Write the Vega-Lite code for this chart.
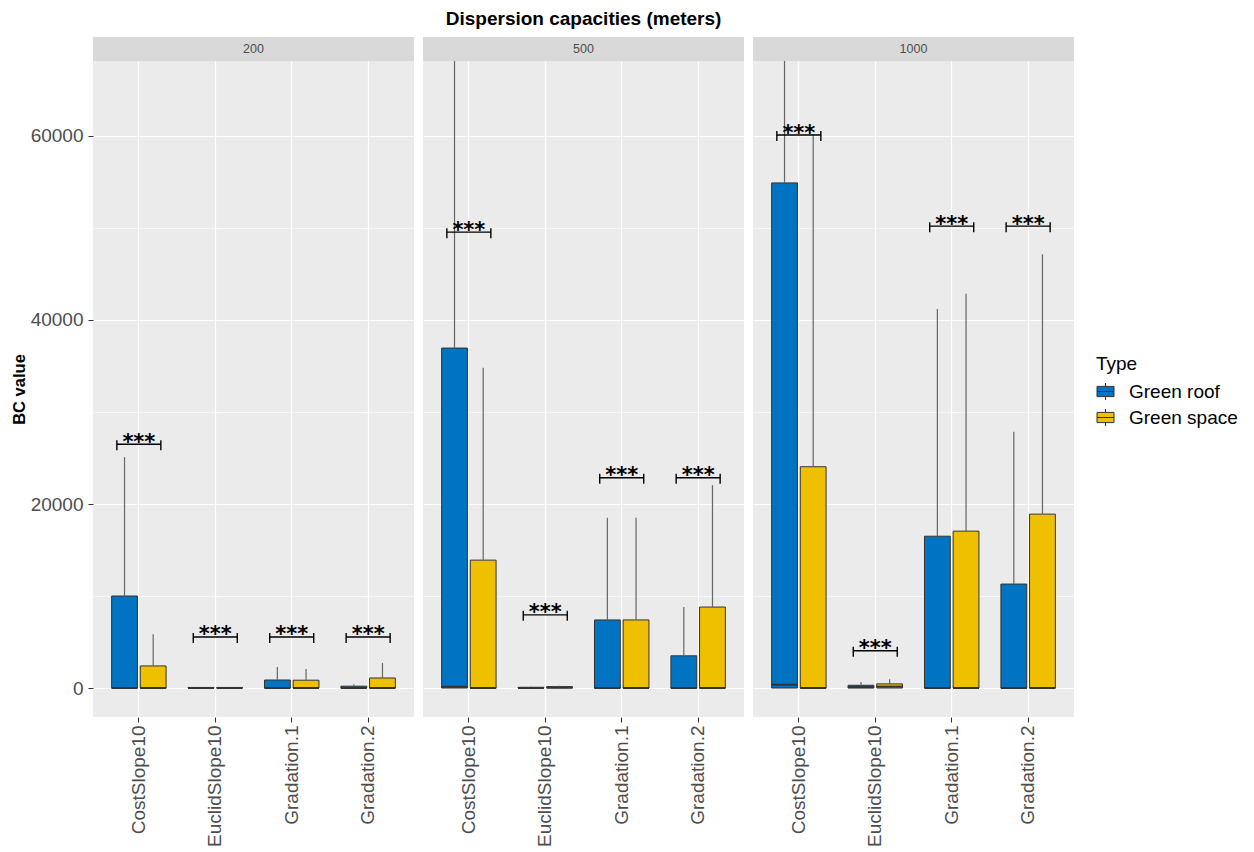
{
  "$schema": "https://vega.github.io/schema/vega-lite/v6.json",
  "padding": {"left": 11, "top": 10, "right": 5, "bottom": 0},
  "background": "white",
  "title": {"text": "Dispersion capacities (meters)", "fontSize": 19, "font": "Liberation Sans", "fontWeight": "bold", "color": "black", "anchor": "middle", "offset": 8, "dx": -41},
  "datasets": {
    "strips": [{"Dist": 200}, {"Dist": 500}, {"Dist": 1000}],
    "main": [
      {"Dist": 200, "Method": "CostSlope10", "Type": "Green roof", "q1": 0, "med": 0, "q3": 10000, "hi": 25100},
      {"Dist": 200, "Method": "CostSlope10", "Type": "Green space", "q1": 0, "med": 0, "q3": 2400, "hi": 5850},
      {"Dist": 200, "Method": "EuclidSlope10", "Type": "Green roof", "q1": 0, "med": 0, "q3": 60, "hi": 100},
      {"Dist": 200, "Method": "EuclidSlope10", "Type": "Green space", "q1": 0, "med": 0, "q3": 60, "hi": 100},
      {"Dist": 200, "Method": "Gradation.1", "Type": "Green roof", "q1": 0, "med": 0, "q3": 870, "hi": 2280},
      {"Dist": 200, "Method": "Gradation.1", "Type": "Green space", "q1": 0, "med": 0, "q3": 850, "hi": 2070},
      {"Dist": 200, "Method": "Gradation.2", "Type": "Green roof", "q1": 0, "med": 0, "q3": 200, "hi": 420},
      {"Dist": 200, "Method": "Gradation.2", "Type": "Green space", "q1": 0, "med": 0, "q3": 1090, "hi": 2720},
      {"Dist": 500, "Method": "CostSlope10", "Type": "Green roof", "q1": 0, "med": 150, "q3": 36950, "hi": 75000},
      {"Dist": 500, "Method": "CostSlope10", "Type": "Green space", "q1": 0, "med": 0, "q3": 13900, "hi": 34800},
      {"Dist": 500, "Method": "EuclidSlope10", "Type": "Green roof", "q1": 0, "med": 0, "q3": 80, "hi": 150},
      {"Dist": 500, "Method": "EuclidSlope10", "Type": "Green space", "q1": 0, "med": 50, "q3": 150, "hi": 250},
      {"Dist": 500, "Method": "Gradation.1", "Type": "Green roof", "q1": 0, "med": 0, "q3": 7400, "hi": 18500},
      {"Dist": 500, "Method": "Gradation.1", "Type": "Green space", "q1": 0, "med": 0, "q3": 7400, "hi": 18500},
      {"Dist": 500, "Method": "Gradation.2", "Type": "Green roof", "q1": 0, "med": 0, "q3": 3500, "hi": 8800},
      {"Dist": 500, "Method": "Gradation.2", "Type": "Green space", "q1": 0, "med": 0, "q3": 8800, "hi": 22050},
      {"Dist": 1000, "Method": "CostSlope10", "Type": "Green roof", "q1": 0, "med": 350, "q3": 54900, "hi": 75000},
      {"Dist": 1000, "Method": "CostSlope10", "Type": "Green space", "q1": 0, "med": 0, "q3": 24050, "hi": 60200},
      {"Dist": 1000, "Method": "EuclidSlope10", "Type": "Green roof", "q1": 0, "med": 100, "q3": 300, "hi": 650},
      {"Dist": 1000, "Method": "EuclidSlope10", "Type": "Green space", "q1": 0, "med": 150, "q3": 450, "hi": 950},
      {"Dist": 1000, "Method": "Gradation.1", "Type": "Green roof", "q1": 0, "med": 0, "q3": 16500, "hi": 41200},
      {"Dist": 1000, "Method": "Gradation.1", "Type": "Green space", "q1": 0, "med": 0, "q3": 17050, "hi": 42850},
      {"Dist": 1000, "Method": "Gradation.2", "Type": "Green roof", "q1": 0, "med": 0, "q3": 11300, "hi": 27850},
      {"Dist": 1000, "Method": "Gradation.2", "Type": "Green space", "q1": 0, "med": 0, "q3": 18900, "hi": 47150},
      {"Dist": 200, "Method": "CostSlope10", "yb": 26500, "sig": "***"},
      {"Dist": 200, "Method": "EuclidSlope10", "yb": 5550, "sig": "***"},
      {"Dist": 200, "Method": "Gradation.1", "yb": 5550, "sig": "***"},
      {"Dist": 200, "Method": "Gradation.2", "yb": 5550, "sig": "***"},
      {"Dist": 500, "Method": "CostSlope10", "yb": 49550, "sig": "***"},
      {"Dist": 500, "Method": "EuclidSlope10", "yb": 7950, "sig": "***"},
      {"Dist": 500, "Method": "Gradation.1", "yb": 22850, "sig": "***"},
      {"Dist": 500, "Method": "Gradation.2", "yb": 22850, "sig": "***"},
      {"Dist": 1000, "Method": "CostSlope10", "yb": 60100, "sig": "***"},
      {"Dist": 1000, "Method": "EuclidSlope10", "yb": 4050, "sig": "***"},
      {"Dist": 1000, "Method": "Gradation.1", "yb": 50200, "sig": "***"},
      {"Dist": 1000, "Method": "Gradation.2", "yb": 50200, "sig": "***"}
    ]
  },
  "bounds": "flush",
  "columns": 3,
  "spacing": {"row": 0, "column": 9},
  "concat": [
    {
      "data": {"name": "strips"},
      "transform": [{"filter": "datum.Dist === 200"}],
      "width": 321, "height": 24,
      "view": {"fill": "#D9D9D9", "stroke": null},
      "mark": {"type": "text", "fontSize": 12.5, "color": "#4D4D4D", "font": "Liberation Sans"},
      "encoding": {"text": {"field": "Dist", "type": "ordinal"}}
    },
    {
      "data": {"name": "strips"},
      "transform": [{"filter": "datum.Dist === 500"}],
      "width": 321, "height": 24,
      "view": {"fill": "#D9D9D9", "stroke": null},
      "mark": {"type": "text", "fontSize": 12.5, "color": "#4D4D4D", "font": "Liberation Sans"},
      "encoding": {"text": {"field": "Dist", "type": "ordinal"}}
    },
    {
      "data": {"name": "strips"},
      "transform": [{"filter": "datum.Dist === 1000"}],
      "width": 321, "height": 24,
      "view": {"fill": "#D9D9D9", "stroke": null},
      "mark": {"type": "text", "fontSize": 12.5, "color": "#4D4D4D", "font": "Liberation Sans"},
      "encoding": {"text": {"field": "Dist", "type": "ordinal"}}
    },
    {
      "data": {"name": "main"},
      "transform": [{"filter": "datum.Dist === 200"}],
      "width": 321, "height": 656,
      "layer": [
        {
          "transform": [{"filter": "isValid(datum.Type)"}],
          "mark": {"type": "bar", "stroke": "#333333", "strokeWidth": 1},
          "encoding": {
            "x": {"field": "Method", "type": "nominal", "scale": {"paddingInner": 0.25, "paddingOuter": 0.225},
                  "axis": {"title": null, "labelAngle": 270, "bandPosition": 0.5}},
            "xOffset": {"field": "Type", "type": "nominal", "scale": {"paddingInner": 0.1, "paddingOuter": 0.05}},
            "y": {"field": "q1", "type": "quantitative", "scale": {"domain": [-3150, 68150], "nice": false, "zero": false},
                  "axis": {"title": "BC value", "values": [0, 10000, 20000, 30000, 40000, 50000, 60000],
                           "labelExpr": "datum.value % 20000 === 0 ? format(datum.value, 'd') : ''",
                           "gridWidth": {"condition": {"test": "datum.value % 20000 === 0", "value": 1.2}, "value": 0.6},
                           "tickOpacity": {"condition": {"test": "datum.value % 20000 === 0", "value": 1}, "value": 0}}},
            "y2": {"field": "q3"},
            "color": {"field": "Type", "type": "nominal", "scale": {"domain": ["Green roof", "Green space"], "range": ["#0073C2", "#EFC000"]},
                      "legend": {"title": "Type"}}
          }
        },
        {
          "transform": [{"filter": "isValid(datum.Type)"}],
          "mark": {"type": "rule", "color": "#666666", "strokeWidth": 1.2, "clip": true},
          "encoding": {
            "x": {"field": "Method", "type": "nominal"},
            "xOffset": {"field": "Type", "type": "nominal"},
            "y": {"field": "q3", "type": "quantitative", "scale": {"domain": [-3150, 68150], "nice": false, "zero": false}},
            "y2": {"field": "hi"}
          }
        },
        {
          "transform": [{"filter": "isValid(datum.Type)"}],
          "mark": {"type": "tick", "color": "#333333", "opacity": 1, "thickness": 2, "size": 26},
          "encoding": {
            "x": {"field": "Method", "type": "nominal"},
            "xOffset": {"field": "Type", "type": "nominal"},
            "y": {"field": "med", "type": "quantitative", "scale": {"domain": [-3150, 68150], "nice": false, "zero": false}}
          }
        },
        {
          "transform": [{"filter": "isValid(datum.yb)"}],
          "mark": {"type": "tick", "color": "black", "opacity": 1, "thickness": 1.4, "size": 44},
          "encoding": {
            "x": {"field": "Method", "type": "nominal"},
            "y": {"field": "yb", "type": "quantitative", "scale": {"domain": [-3150, 68150], "nice": false, "zero": false}}
          }
        },
        {
          "transform": [{"filter": "isValid(datum.yb)"}],
          "mark": {"type": "tick", "orient": "vertical", "color": "black", "opacity": 1, "thickness": 1.4, "size": 10, "xOffset": -22, "yOffset": 1},
          "encoding": {
            "x": {"field": "Method", "type": "nominal"},
            "y": {"field": "yb", "type": "quantitative", "scale": {"domain": [-3150, 68150], "nice": false, "zero": false}}
          }
        },
        {
          "transform": [{"filter": "isValid(datum.yb)"}],
          "mark": {"type": "tick", "orient": "vertical", "color": "black", "opacity": 1, "thickness": 1.4, "size": 10, "xOffset": 22, "yOffset": 1},
          "encoding": {
            "x": {"field": "Method", "type": "nominal"},
            "y": {"field": "yb", "type": "quantitative", "scale": {"domain": [-3150, 68150], "nice": false, "zero": false}}
          }
        },
        {
          "transform": [{"filter": "isValid(datum.yb)"}],
          "mark": {"type": "text", "font": "DejaVu Sans", "fontSize": 21, "fontWeight": "bold", "color": "black", "baseline": "alphabetic", "dy": 4.5},
          "encoding": {
            "x": {"field": "Method", "type": "nominal"},
            "y": {"field": "yb", "type": "quantitative", "scale": {"domain": [-3150, 68150], "nice": false, "zero": false}},
            "text": {"field": "sig"}
          }
        }
      ]
    },
    {
      "data": {"name": "main"},
      "transform": [{"filter": "datum.Dist === 500"}],
      "width": 321, "height": 656,
      "layer": [
        {
          "transform": [{"filter": "isValid(datum.Type)"}],
          "mark": {"type": "bar", "stroke": "#333333", "strokeWidth": 1},
          "encoding": {
            "x": {"field": "Method", "type": "nominal", "scale": {"paddingInner": 0.25, "paddingOuter": 0.225},
                  "axis": {"title": null, "labelAngle": 270, "bandPosition": 0.5}},
            "xOffset": {"field": "Type", "type": "nominal", "scale": {"paddingInner": 0.1, "paddingOuter": 0.05}},
            "y": {"field": "q1", "type": "quantitative", "scale": {"domain": [-3150, 68150], "nice": false, "zero": false},
                  "axis": {"title": null, "labels": false, "ticks": false, "values": [0, 10000, 20000, 30000, 40000, 50000, 60000],
                           "gridWidth": {"condition": {"test": "datum.value % 20000 === 0", "value": 1.2}, "value": 0.6}}},
            "y2": {"field": "q3"},
            "color": {"field": "Type", "type": "nominal", "scale": {"domain": ["Green roof", "Green space"], "range": ["#0073C2", "#EFC000"]},
                      "legend": {"title": "Type"}}
          }
        },
        {
          "transform": [{"filter": "isValid(datum.Type)"}],
          "mark": {"type": "rule", "color": "#666666", "strokeWidth": 1.2, "clip": true},
          "encoding": {
            "x": {"field": "Method", "type": "nominal"},
            "xOffset": {"field": "Type", "type": "nominal"},
            "y": {"field": "q3", "type": "quantitative", "scale": {"domain": [-3150, 68150], "nice": false, "zero": false}},
            "y2": {"field": "hi"}
          }
        },
        {
          "transform": [{"filter": "isValid(datum.Type)"}],
          "mark": {"type": "tick", "color": "#333333", "opacity": 1, "thickness": 2, "size": 26},
          "encoding": {
            "x": {"field": "Method", "type": "nominal"},
            "xOffset": {"field": "Type", "type": "nominal"},
            "y": {"field": "med", "type": "quantitative", "scale": {"domain": [-3150, 68150], "nice": false, "zero": false}}
          }
        },
        {
          "transform": [{"filter": "isValid(datum.yb)"}],
          "mark": {"type": "tick", "color": "black", "opacity": 1, "thickness": 1.4, "size": 44},
          "encoding": {
            "x": {"field": "Method", "type": "nominal"},
            "y": {"field": "yb", "type": "quantitative", "scale": {"domain": [-3150, 68150], "nice": false, "zero": false}}
          }
        },
        {
          "transform": [{"filter": "isValid(datum.yb)"}],
          "mark": {"type": "tick", "orient": "vertical", "color": "black", "opacity": 1, "thickness": 1.4, "size": 10, "xOffset": -22, "yOffset": 1},
          "encoding": {
            "x": {"field": "Method", "type": "nominal"},
            "y": {"field": "yb", "type": "quantitative", "scale": {"domain": [-3150, 68150], "nice": false, "zero": false}}
          }
        },
        {
          "transform": [{"filter": "isValid(datum.yb)"}],
          "mark": {"type": "tick", "orient": "vertical", "color": "black", "opacity": 1, "thickness": 1.4, "size": 10, "xOffset": 22, "yOffset": 1},
          "encoding": {
            "x": {"field": "Method", "type": "nominal"},
            "y": {"field": "yb", "type": "quantitative", "scale": {"domain": [-3150, 68150], "nice": false, "zero": false}}
          }
        },
        {
          "transform": [{"filter": "isValid(datum.yb)"}],
          "mark": {"type": "text", "font": "DejaVu Sans", "fontSize": 21, "fontWeight": "bold", "color": "black", "baseline": "alphabetic", "dy": 4.5},
          "encoding": {
            "x": {"field": "Method", "type": "nominal"},
            "y": {"field": "yb", "type": "quantitative", "scale": {"domain": [-3150, 68150], "nice": false, "zero": false}},
            "text": {"field": "sig"}
          }
        }
      ]
    },
    {
      "data": {"name": "main"},
      "transform": [{"filter": "datum.Dist === 1000"}],
      "width": 321, "height": 656,
      "layer": [
        {
          "transform": [{"filter": "isValid(datum.Type)"}],
          "mark": {"type": "bar", "stroke": "#333333", "strokeWidth": 1},
          "encoding": {
            "x": {"field": "Method", "type": "nominal", "scale": {"paddingInner": 0.25, "paddingOuter": 0.225},
                  "axis": {"title": null, "labelAngle": 270, "bandPosition": 0.5}},
            "xOffset": {"field": "Type", "type": "nominal", "scale": {"paddingInner": 0.1, "paddingOuter": 0.05}},
            "y": {"field": "q1", "type": "quantitative", "scale": {"domain": [-3150, 68150], "nice": false, "zero": false},
                  "axis": {"title": null, "labels": false, "ticks": false, "values": [0, 10000, 20000, 30000, 40000, 50000, 60000],
                           "gridWidth": {"condition": {"test": "datum.value % 20000 === 0", "value": 1.2}, "value": 0.6}}},
            "y2": {"field": "q3"},
            "color": {"field": "Type", "type": "nominal", "scale": {"domain": ["Green roof", "Green space"], "range": ["#0073C2", "#EFC000"]},
                      "legend": {"title": "Type"}}
          }
        },
        {
          "transform": [{"filter": "isValid(datum.Type)"}],
          "mark": {"type": "rule", "color": "#666666", "strokeWidth": 1.2, "clip": true},
          "encoding": {
            "x": {"field": "Method", "type": "nominal"},
            "xOffset": {"field": "Type", "type": "nominal"},
            "y": {"field": "q3", "type": "quantitative", "scale": {"domain": [-3150, 68150], "nice": false, "zero": false}},
            "y2": {"field": "hi"}
          }
        },
        {
          "transform": [{"filter": "isValid(datum.Type)"}],
          "mark": {"type": "tick", "color": "#333333", "opacity": 1, "thickness": 2, "size": 26},
          "encoding": {
            "x": {"field": "Method", "type": "nominal"},
            "xOffset": {"field": "Type", "type": "nominal"},
            "y": {"field": "med", "type": "quantitative", "scale": {"domain": [-3150, 68150], "nice": false, "zero": false}}
          }
        },
        {
          "transform": [{"filter": "isValid(datum.yb)"}],
          "mark": {"type": "tick", "color": "black", "opacity": 1, "thickness": 1.4, "size": 44},
          "encoding": {
            "x": {"field": "Method", "type": "nominal"},
            "y": {"field": "yb", "type": "quantitative", "scale": {"domain": [-3150, 68150], "nice": false, "zero": false}}
          }
        },
        {
          "transform": [{"filter": "isValid(datum.yb)"}],
          "mark": {"type": "tick", "orient": "vertical", "color": "black", "opacity": 1, "thickness": 1.4, "size": 10, "xOffset": -22, "yOffset": 1},
          "encoding": {
            "x": {"field": "Method", "type": "nominal"},
            "y": {"field": "yb", "type": "quantitative", "scale": {"domain": [-3150, 68150], "nice": false, "zero": false}}
          }
        },
        {
          "transform": [{"filter": "isValid(datum.yb)"}],
          "mark": {"type": "tick", "orient": "vertical", "color": "black", "opacity": 1, "thickness": 1.4, "size": 10, "xOffset": 22, "yOffset": 1},
          "encoding": {
            "x": {"field": "Method", "type": "nominal"},
            "y": {"field": "yb", "type": "quantitative", "scale": {"domain": [-3150, 68150], "nice": false, "zero": false}}
          }
        },
        {
          "transform": [{"filter": "isValid(datum.yb)"}],
          "mark": {"type": "text", "font": "DejaVu Sans", "fontSize": 21, "fontWeight": "bold", "color": "black", "baseline": "alphabetic", "dy": 4.5},
          "encoding": {
            "x": {"field": "Method", "type": "nominal"},
            "y": {"field": "yb", "type": "quantitative", "scale": {"domain": [-3150, 68150], "nice": false, "zero": false}},
            "text": {"field": "sig"}
          }
        }
      ]
    }
  ],
  "config": {
    "font": "Liberation Sans",
    "view": {"fill": "#EBEBEB", "stroke": null},
    "axis": {
      "domain": false,
      "grid": true,
      "gridColor": "#FFFFFF",
      "gridWidth": 1.2,
      "tickColor": "#333333",
      "tickSize": 5,
      "labelColor": "#4D4D4D",
      "labelFont": "Liberation Sans",
      "labelPadding": 3,
      "titleFont": "Liberation Sans",
      "titleColor": "#000000"
    },
    "axisY": {"labelFontSize": 19, "titleFontSize": 16.5, "titleFontWeight": "bold", "titlePadding": 3, "labelPadding": 5},
    "axisX": {"labelFontSize": 19},
    "legend": {
      "orient": "none",
      "legendX": 1003,
      "legendY": 318,
      "titleFontSize": 19,
      "titleFontWeight": "normal",
      "titleColor": "#000000",
      "titleFont": "Liberation Sans",
      "titlePadding": 8,
      "labelFontSize": 19,
      "labelColor": "#000000",
      "labelFont": "Liberation Sans",
      "labelOffset": 14,
      "rowPadding": 5,
      "symbolType": "M0,-1V-0.6M-1,-0.6H1V0.6H-1ZM0,0.6V1M-1,0H1",
      "symbolSize": 289,
      "symbolStrokeColor": "#333333",
      "symbolStrokeWidth": 1
    }
  }
}
